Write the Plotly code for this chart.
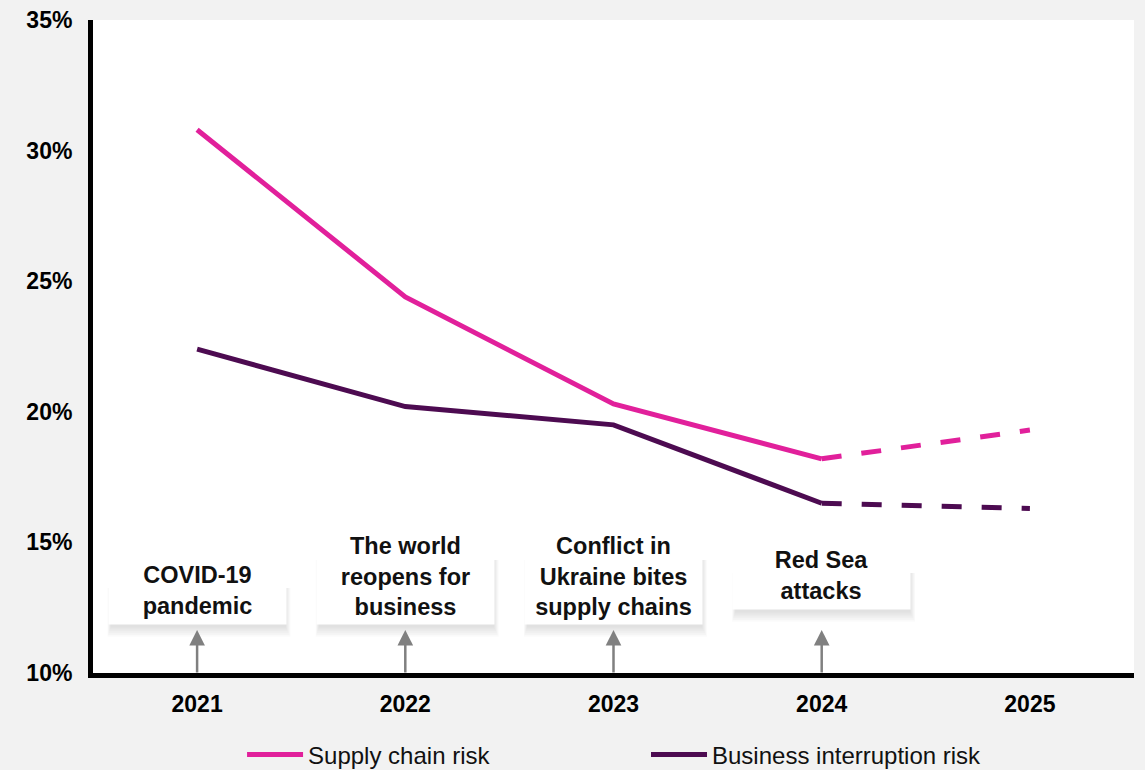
import plotly.graph_objects as go

years = ["2021", "2022", "2023", "2024", "2025"]
supply_chain = [30.8, 24.4, 20.3, 18.2, 19.3]
business_interruption = [22.4, 20.2, 19.5, 16.5, 16.3]
y_ticks = [10, 15, 20, 25, 30, 35]
y_tick_labels = ["10%", "15%", "20%", "25%", "30%", "35%"]

event_years = ["2021", "2022", "2023", "2024"]
event_labels = [
    "COVID-19<br>pandemic",
    "The world<br>reopens for<br>business",
    "Conflict in<br>Ukraine bites<br>supply chains",
    "Red Sea<br>attacks",
]
event_box_bottom = [11.84, 11.84, 11.84, 12.41]
event_box_lines = [2, 3, 3, 2]
arrow_tip = 11.65

PINK = "#E1209B"
PURPLE = "#4D0B51"
LW = 5
FONT = "Liberation Sans, Arial, sans-serif"

fig = go.Figure()
fig.add_trace(go.Scatter(x=years[:4], y=supply_chain[:4], mode="lines",
                         line=dict(color=PINK, width=LW), name="Supply chain risk", legend="legend"))
fig.add_trace(go.Scatter(x=years[:4], y=business_interruption[:4], mode="lines",
                         line=dict(color=PURPLE, width=LW), name="Business interruption risk", legend="legend2"))
fig.add_trace(go.Scatter(x=years[3:], y=supply_chain[3:], mode="lines",
                         line=dict(color=PINK, width=LW, dash="20px,20px"), showlegend=False))
fig.add_trace(go.Scatter(x=years[3:], y=business_interruption[3:], mode="lines",
                         line=dict(color=PURPLE, width=LW, dash="20px,20px"), showlegend=False))

event_idx = [years.index(y) for y in event_years]

# soft shadows behind the boxes (layered translucent rectangles)
for xi, yb, n in zip(event_idx, event_box_bottom, event_box_lines):
    h = 67 if n == 2 else 95
    for k in range(1, 7):
        fig.add_shape(type="rect", xref="x", yref="y", xsizemode="pixel", ysizemode="pixel",
                      xanchor=xi, yanchor=yb, x0=-86 - 0.6 * k, x1=88 + 0.9 * k,
                      y0=-1 - 1.8 * k, y1=h - 30, line=dict(width=0),
                      fillcolor="rgba(0,0,0,0.02)", layer="above")

for xi, lab, yb, n in zip(event_idx, event_labels, event_box_bottom, event_box_lines):
    h = 67 if n == 2 else 95
    fig.add_annotation(x=xi, y=yb, xref="x", yref="y", text="<b>" + lab + "</b>",
                       showarrow=False, yanchor="bottom", xanchor="center",
                       width=171, height=h - 6, borderpad=3, bgcolor="white",
                       font=dict(family=FONT, size=23.5, color="#111111"))
for xi in event_idx:
    fig.add_annotation(x=xi, y=arrow_tip, xref="x", yref="y", text="", showarrow=True,
                       ax=0, ay=44, arrowhead=2, arrowsize=1.25, arrowwidth=2.5,
                       arrowcolor="#808080")

fig.update_layout(
    width=1145, height=770,
    paper_bgcolor="#F2F2F2", plot_bgcolor="white",
    margin=dict(l=93, r=11, t=20, b=97, autoexpand=False),
    showlegend=True,
    legend=dict(orientation="h", xref="container", yref="container", x=0.2114, xanchor="left",
                y=0.0195, yanchor="middle", itemwidth=56,
                font=dict(family=FONT, size=24, color="#111111"), bgcolor="rgba(0,0,0,0)"),
    legend2=dict(orientation="h", xref="container", yref="container", x=0.5642, xanchor="left",
                 y=0.0195, yanchor="middle", itemwidth=56,
                 font=dict(family=FONT, size=24, color="#111111"), bgcolor="rgba(0,0,0,0)"),
    xaxis=dict(type="category", range=[-0.5, 4.5], showgrid=False, zeroline=False,
               showline=True, linecolor="black", linewidth=5, ticks="", automargin=False,
               tickfont=dict(family=FONT, size=23, color="black", weight="bold"),
               ticklabelstandoff=6, fixedrange=True),
    yaxis=dict(range=[10, 35], tickmode="array", tickvals=y_ticks, ticktext=y_tick_labels,
               showgrid=False, zeroline=False, showline=True, linecolor="black", linewidth=5,
               ticks="", automargin=False,
               tickfont=dict(family=FONT, size=23, color="black", weight="bold"),
               ticklabelstandoff=11, fixedrange=True),
)

fig.write_html("out.html")
